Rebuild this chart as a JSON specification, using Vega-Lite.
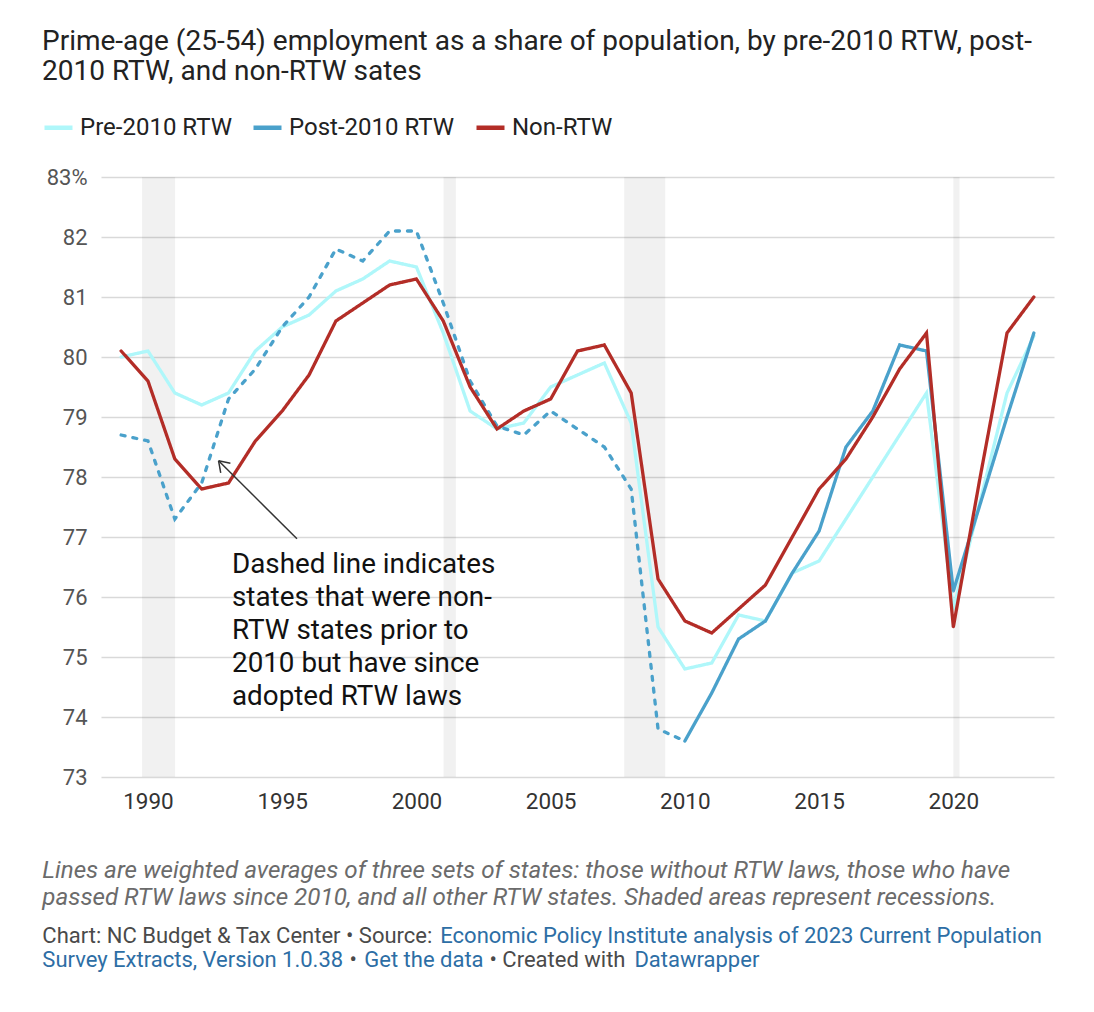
{
  "$schema": "https://vega.github.io/schema/vega-lite/v6.json",
  "width": 953,
  "height": 600,
  "autosize": {"type": "none"},
  "padding": {"left": 101, "top": 177, "right": 40, "bottom": 235},
  "background": "white",
  "title": {
    "text": ["Prime-age (25-54) employment as a share of population, by pre-2010 RTW, post-", "2010 RTW, and non-RTW sates"],
    "anchor": "start",
    "frame": "group",
    "dx": -59,
    "offset": 25,
    "fontSize": 28,
    "font": "Roboto",
    "fontWeight": "normal",
    "color": "#222222",
    "lineHeight": 30
  },
  "datasets": {
    "employment": [
      {"year": 1989, "series": "Pre-2010 RTW", "part": "solid", "value": 80.0},
      {"year": 1990, "series": "Pre-2010 RTW", "part": "solid", "value": 80.1},
      {"year": 1991, "series": "Pre-2010 RTW", "part": "solid", "value": 79.4},
      {"year": 1992, "series": "Pre-2010 RTW", "part": "solid", "value": 79.2},
      {"year": 1993, "series": "Pre-2010 RTW", "part": "solid", "value": 79.4},
      {"year": 1994, "series": "Pre-2010 RTW", "part": "solid", "value": 80.1},
      {"year": 1995, "series": "Pre-2010 RTW", "part": "solid", "value": 80.5},
      {"year": 1996, "series": "Pre-2010 RTW", "part": "solid", "value": 80.7},
      {"year": 1997, "series": "Pre-2010 RTW", "part": "solid", "value": 81.1},
      {"year": 1998, "series": "Pre-2010 RTW", "part": "solid", "value": 81.3},
      {"year": 1999, "series": "Pre-2010 RTW", "part": "solid", "value": 81.6},
      {"year": 2000, "series": "Pre-2010 RTW", "part": "solid", "value": 81.5},
      {"year": 2001, "series": "Pre-2010 RTW", "part": "solid", "value": 80.4},
      {"year": 2002, "series": "Pre-2010 RTW", "part": "solid", "value": 79.1},
      {"year": 2003, "series": "Pre-2010 RTW", "part": "solid", "value": 78.8},
      {"year": 2004, "series": "Pre-2010 RTW", "part": "solid", "value": 78.9},
      {"year": 2005, "series": "Pre-2010 RTW", "part": "solid", "value": 79.5},
      {"year": 2006, "series": "Pre-2010 RTW", "part": "solid", "value": 79.7},
      {"year": 2007, "series": "Pre-2010 RTW", "part": "solid", "value": 79.9},
      {"year": 2008, "series": "Pre-2010 RTW", "part": "solid", "value": 78.9},
      {"year": 2009, "series": "Pre-2010 RTW", "part": "solid", "value": 75.5},
      {"year": 2010, "series": "Pre-2010 RTW", "part": "solid", "value": 74.8},
      {"year": 2011, "series": "Pre-2010 RTW", "part": "solid", "value": 74.9},
      {"year": 2012, "series": "Pre-2010 RTW", "part": "solid", "value": 75.7},
      {"year": 2013, "series": "Pre-2010 RTW", "part": "solid", "value": 75.6},
      {"year": 2014, "series": "Pre-2010 RTW", "part": "solid", "value": 76.4},
      {"year": 2015, "series": "Pre-2010 RTW", "part": "solid", "value": 76.6},
      {"year": 2016, "series": "Pre-2010 RTW", "part": "solid", "value": 77.3},
      {"year": 2017, "series": "Pre-2010 RTW", "part": "solid", "value": 78.0},
      {"year": 2018, "series": "Pre-2010 RTW", "part": "solid", "value": 78.7},
      {"year": 2019, "series": "Pre-2010 RTW", "part": "solid", "value": 79.4},
      {"year": 2020, "series": "Pre-2010 RTW", "part": "solid", "value": 75.8},
      {"year": 2021, "series": "Pre-2010 RTW", "part": "solid", "value": 77.6},
      {"year": 2022, "series": "Pre-2010 RTW", "part": "solid", "value": 79.4},
      {"year": 2023, "series": "Pre-2010 RTW", "part": "solid", "value": 80.35},
      {"year": 1989, "series": "Post-2010 RTW", "part": "dashed", "value": 78.7},
      {"year": 1990, "series": "Post-2010 RTW", "part": "dashed", "value": 78.6},
      {"year": 1991, "series": "Post-2010 RTW", "part": "dashed", "value": 77.3},
      {"year": 1992, "series": "Post-2010 RTW", "part": "dashed", "value": 77.9},
      {"year": 1993, "series": "Post-2010 RTW", "part": "dashed", "value": 79.3},
      {"year": 1994, "series": "Post-2010 RTW", "part": "dashed", "value": 79.8},
      {"year": 1995, "series": "Post-2010 RTW", "part": "dashed", "value": 80.5},
      {"year": 1996, "series": "Post-2010 RTW", "part": "dashed", "value": 81.0},
      {"year": 1997, "series": "Post-2010 RTW", "part": "dashed", "value": 81.8},
      {"year": 1998, "series": "Post-2010 RTW", "part": "dashed", "value": 81.6},
      {"year": 1999, "series": "Post-2010 RTW", "part": "dashed", "value": 82.1},
      {"year": 2000, "series": "Post-2010 RTW", "part": "dashed", "value": 82.1},
      {"year": 2001, "series": "Post-2010 RTW", "part": "dashed", "value": 80.9},
      {"year": 2002, "series": "Post-2010 RTW", "part": "dashed", "value": 79.6},
      {"year": 2003, "series": "Post-2010 RTW", "part": "dashed", "value": 78.85},
      {"year": 2004, "series": "Post-2010 RTW", "part": "dashed", "value": 78.7},
      {"year": 2005, "series": "Post-2010 RTW", "part": "dashed", "value": 79.1},
      {"year": 2006, "series": "Post-2010 RTW", "part": "dashed", "value": 78.8},
      {"year": 2007, "series": "Post-2010 RTW", "part": "dashed", "value": 78.5},
      {"year": 2008, "series": "Post-2010 RTW", "part": "dashed", "value": 77.8},
      {"year": 2009, "series": "Post-2010 RTW", "part": "dashed", "value": 73.8},
      {"year": 2010, "series": "Post-2010 RTW", "part": "dashed", "value": 73.6},
      {"year": 2010, "series": "Post-2010 RTW", "part": "solid", "value": 73.6},
      {"year": 2011, "series": "Post-2010 RTW", "part": "solid", "value": 74.4},
      {"year": 2012, "series": "Post-2010 RTW", "part": "solid", "value": 75.3},
      {"year": 2013, "series": "Post-2010 RTW", "part": "solid", "value": 75.6},
      {"year": 2014, "series": "Post-2010 RTW", "part": "solid", "value": 76.4},
      {"year": 2015, "series": "Post-2010 RTW", "part": "solid", "value": 77.1},
      {"year": 2016, "series": "Post-2010 RTW", "part": "solid", "value": 78.5},
      {"year": 2017, "series": "Post-2010 RTW", "part": "solid", "value": 79.1},
      {"year": 2018, "series": "Post-2010 RTW", "part": "solid", "value": 80.2},
      {"year": 2019, "series": "Post-2010 RTW", "part": "solid", "value": 80.1},
      {"year": 2020, "series": "Post-2010 RTW", "part": "solid", "value": 76.1},
      {"year": 2021, "series": "Post-2010 RTW", "part": "solid", "value": 77.55},
      {"year": 2022, "series": "Post-2010 RTW", "part": "solid", "value": 79.0},
      {"year": 2023, "series": "Post-2010 RTW", "part": "solid", "value": 80.4},
      {"year": 1989, "series": "Non-RTW", "part": "solid", "value": 80.1},
      {"year": 1990, "series": "Non-RTW", "part": "solid", "value": 79.6},
      {"year": 1991, "series": "Non-RTW", "part": "solid", "value": 78.3},
      {"year": 1992, "series": "Non-RTW", "part": "solid", "value": 77.8},
      {"year": 1993, "series": "Non-RTW", "part": "solid", "value": 77.9},
      {"year": 1994, "series": "Non-RTW", "part": "solid", "value": 78.6},
      {"year": 1995, "series": "Non-RTW", "part": "solid", "value": 79.1},
      {"year": 1996, "series": "Non-RTW", "part": "solid", "value": 79.7},
      {"year": 1997, "series": "Non-RTW", "part": "solid", "value": 80.6},
      {"year": 1998, "series": "Non-RTW", "part": "solid", "value": 80.9},
      {"year": 1999, "series": "Non-RTW", "part": "solid", "value": 81.2},
      {"year": 2000, "series": "Non-RTW", "part": "solid", "value": 81.3},
      {"year": 2001, "series": "Non-RTW", "part": "solid", "value": 80.6},
      {"year": 2002, "series": "Non-RTW", "part": "solid", "value": 79.5},
      {"year": 2003, "series": "Non-RTW", "part": "solid", "value": 78.8},
      {"year": 2004, "series": "Non-RTW", "part": "solid", "value": 79.1},
      {"year": 2005, "series": "Non-RTW", "part": "solid", "value": 79.3},
      {"year": 2006, "series": "Non-RTW", "part": "solid", "value": 80.1},
      {"year": 2007, "series": "Non-RTW", "part": "solid", "value": 80.2},
      {"year": 2008, "series": "Non-RTW", "part": "solid", "value": 79.4},
      {"year": 2009, "series": "Non-RTW", "part": "solid", "value": 76.3},
      {"year": 2010, "series": "Non-RTW", "part": "solid", "value": 75.6},
      {"year": 2011, "series": "Non-RTW", "part": "solid", "value": 75.4},
      {"year": 2012, "series": "Non-RTW", "part": "solid", "value": 75.8},
      {"year": 2013, "series": "Non-RTW", "part": "solid", "value": 76.2},
      {"year": 2014, "series": "Non-RTW", "part": "solid", "value": 77.0},
      {"year": 2015, "series": "Non-RTW", "part": "solid", "value": 77.8},
      {"year": 2016, "series": "Non-RTW", "part": "solid", "value": 78.3},
      {"year": 2017, "series": "Non-RTW", "part": "solid", "value": 79.0},
      {"year": 2018, "series": "Non-RTW", "part": "solid", "value": 79.8},
      {"year": 2019, "series": "Non-RTW", "part": "solid", "value": 80.4},
      {"year": 2020, "series": "Non-RTW", "part": "solid", "value": 75.5},
      {"year": 2021, "series": "Non-RTW", "part": "solid", "value": 78.0},
      {"year": 2022, "series": "Non-RTW", "part": "solid", "value": 80.4},
      {"year": 2023, "series": "Non-RTW", "part": "solid", "value": 81.0}
    ],
    "recessions": [
      {"start": 1989.78, "end": 1991.01},
      {"start": 2001.01, "end": 2001.47},
      {"start": 2007.74, "end": 2009.27},
      {"start": 2020.0, "end": 2020.23}
    ]
  },
  "layer": [
    {
      "data": {"name": "recessions"},
      "mark": {"type": "rect", "color": "#000000", "opacity": 0.055},
      "encoding": {
        "x": {
          "field": "start",
          "type": "quantitative",
          "scale": {"domain": [1988.25, 2023.75], "nice": false, "zero": false},
          "axis": {
            "values": [1990, 1995, 2000, 2005, 2010, 2015, 2020],
            "format": "d",
            "title": null,
            "grid": false,
            "domain": false,
            "ticks": false,
            "labelFontSize": 22.5,
            "labelColor": "#333333",
            "labelPadding": 13,
            "labelFont": "Roboto"
          }
        },
        "x2": {"field": "end"}
      }
    },
    {
      "data": {"name": "employment"},
      "transform": [{"filter": "datum.series == 'Pre-2010 RTW'"}],
      "mark": {"type": "line", "strokeWidth": 3.3, "strokeCap": "round"},
      "encoding": {
        "x": {"field": "year", "type": "quantitative"},
        "y": {
          "field": "value",
          "type": "quantitative",
          "scale": {"domain": [73, 83], "nice": false, "zero": false},
          "axis": {
            "values": [73, 74, 75, 76, 77, 78, 79, 80, 81, 82, 83],
            "format": "d",
            "labelExpr": "datum.value == 83 ? '83%' : datum.label",
            "title": null,
            "domain": false,
            "ticks": false,
            "gridColor": "#d9d9d9",
            "gridWidth": 1.6,
            "labelFontSize": 22,
            "labelColor": "#555555",
            "labelPadding": 14,
            "labelFont": "Roboto"
          }
        },
        "color": {
          "field": "series",
          "type": "nominal",
          "scale": {
            "domain": ["Pre-2010 RTW", "Post-2010 RTW", "Non-RTW"],
            "range": ["#aff7fa", "#4aa1cb", "#b32d27"]
          },
          "legend": {
            "orient": "none",
            "legendX": -59,
            "legendY": -66,
            "direction": "horizontal",
            "title": null,
            "symbolType": "stroke",
            "symbolSize": 784,
            "symbolStrokeWidth": 4.5,
            "labelFontSize": 24,
            "labelFont": "Roboto",
            "labelColor": "#222222",
            "labelOffset": 5,
            "labelLimit": 400,
            "columnPadding": 12,
            "padding": 0
          }
        },
        "strokeDash": {
          "field": "part",
          "type": "nominal",
          "scale": {"domain": ["solid", "dashed"], "range": [[1, 0], [4, 8]]},
          "legend": null
        }
      }
    },
    {
      "data": {"name": "employment"},
      "transform": [{"filter": "datum.series == 'Post-2010 RTW'"}],
      "mark": {"type": "line", "strokeWidth": 3.3, "strokeCap": "round"},
      "encoding": {
        "x": {"field": "year", "type": "quantitative"},
        "y": {"field": "value", "type": "quantitative"},
        "color": {"field": "series", "type": "nominal"},
        "strokeDash": {"field": "part", "type": "nominal", "legend": null}
      }
    },
    {
      "data": {"name": "employment"},
      "transform": [{"filter": "datum.series == 'Non-RTW'"}],
      "mark": {"type": "line", "strokeWidth": 3.3, "strokeCap": "round"},
      "encoding": {
        "x": {"field": "year", "type": "quantitative"},
        "y": {"field": "value", "type": "quantitative"},
        "color": {"field": "series", "type": "nominal"},
        "strokeDash": {"field": "part", "type": "nominal", "legend": null}
      }
    },
    {
      "data": {"values": [{}]},
      "mark": {"type": "rule", "color": "#333333", "strokeWidth": 1.5},
      "encoding": {
        "x": {"datum": 1995.55, "type": "quantitative"},
        "y": {"datum": 76.97, "type": "quantitative"},
        "x2": {"datum": 1992.63},
        "y2": {"datum": 78.27}
      }
    },
    {
      "data": {"values": [{}]},
      "mark": {"type": "rule", "color": "#333333", "strokeWidth": 1.5},
      "encoding": {
        "x": {"datum": 1992.63, "type": "quantitative"},
        "y": {"datum": 78.27, "type": "quantitative"},
        "x2": {"datum": 1992.71},
        "y2": {"datum": 78.07}
      }
    },
    {
      "data": {"values": [{}]},
      "mark": {"type": "rule", "color": "#333333", "strokeWidth": 1.5},
      "encoding": {
        "x": {"datum": 1992.63, "type": "quantitative"},
        "y": {"datum": 78.27, "type": "quantitative"},
        "x2": {"datum": 1993.07},
        "y2": {"datum": 78.23}
      }
    },
    {
      "data": {"values": [{}]},
      "mark": {
        "type": "text",
        "text": ["Dashed line indicates", "states that were non-", "RTW states prior to", "2010 but have since", "adopted RTW laws"],
        "align": "left",
        "baseline": "alphabetic",
        "font": "Roboto",
        "fontSize": 27.8,
        "lineHeight": 33,
        "color": "#111111"
      },
      "encoding": {
        "x": {"datum": 1993.13, "type": "quantitative"},
        "y": {"datum": 76.4, "type": "quantitative"}
      }
    },
    {
      "data": {"values": [{}]},
      "mark": {
        "type": "text",
        "text": ["Lines are weighted averages of three sets of states: those without RTW laws, those who have", "passed RTW laws since 2010, and all other RTW states. Shaded areas represent recessions."],
        "align": "left",
        "baseline": "alphabetic",
        "font": "Roboto",
        "fontStyle": "italic",
        "fontSize": 24.2,
        "lineHeight": 27,
        "color": "#6b6b6b"
      },
      "encoding": {
        "x": {"datum": 1986.065, "type": "quantitative"},
        "y": {"datum": 71.31, "type": "quantitative"}
      }
    },
    {
      "data": {"values": [{}]},
      "mark": {"type": "text", "text": "Chart: NC Budget & Tax Center • Source:", "align": "left", "baseline": "middle", "font": "Roboto", "fontSize": 22, "color": "#4a4a4a"},
      "encoding": {
        "x": {"datum": 1986.065, "type": "quantitative"},
        "y": {"datum": 70.345, "type": "quantitative"}
      }
    },
    {
      "data": {"values": [{}]},
      "mark": {"type": "text", "text": "Economic Policy Institute analysis of 2023 Current Population", "align": "left", "baseline": "middle", "font": "Roboto", "fontSize": 22, "color": "#2d6ea5"},
      "encoding": {
        "x": {"datum": 2000.888, "type": "quantitative"},
        "y": {"datum": 70.345, "type": "quantitative"}
      }
    },
    {
      "data": {"values": [{}]},
      "mark": {"type": "text", "text": "Survey Extracts, Version 1.0.38", "align": "left", "baseline": "middle", "font": "Roboto", "fontSize": 22, "color": "#2d6ea5"},
      "encoding": {
        "x": {"datum": 1986.065, "type": "quantitative"},
        "y": {"datum": 69.945, "type": "quantitative"}
      }
    },
    {
      "data": {"values": [{}]},
      "mark": {"type": "text", "text": "•", "align": "center", "baseline": "middle", "font": "Roboto", "fontSize": 22, "color": "#4a4a4a"},
      "encoding": {
        "x": {"datum": 1997.648, "type": "quantitative"},
        "y": {"datum": 69.945, "type": "quantitative"}
      }
    },
    {
      "data": {"values": [{}]},
      "mark": {"type": "text", "text": "Get the data", "align": "left", "baseline": "middle", "font": "Roboto", "fontSize": 22, "color": "#2d6ea5"},
      "encoding": {
        "x": {"datum": 1998.058, "type": "quantitative"},
        "y": {"datum": 69.945, "type": "quantitative"}
      }
    },
    {
      "data": {"values": [{}]},
      "mark": {"type": "text", "text": "• Created with", "align": "left", "baseline": "middle", "font": "Roboto", "fontSize": 22, "color": "#4a4a4a"},
      "encoding": {
        "x": {"datum": 2002.72, "type": "quantitative"},
        "y": {"datum": 69.945, "type": "quantitative"}
      }
    },
    {
      "data": {"values": [{}]},
      "mark": {"type": "text", "text": "Datawrapper", "align": "left", "baseline": "middle", "font": "Roboto", "fontSize": 22, "color": "#2d6ea5"},
      "encoding": {
        "x": {"datum": 2008.12, "type": "quantitative"},
        "y": {"datum": 69.945, "type": "quantitative"}
      }
    }
  ],
  "config": {
    "view": {"stroke": null},
    "font": "Roboto"
  }
}
